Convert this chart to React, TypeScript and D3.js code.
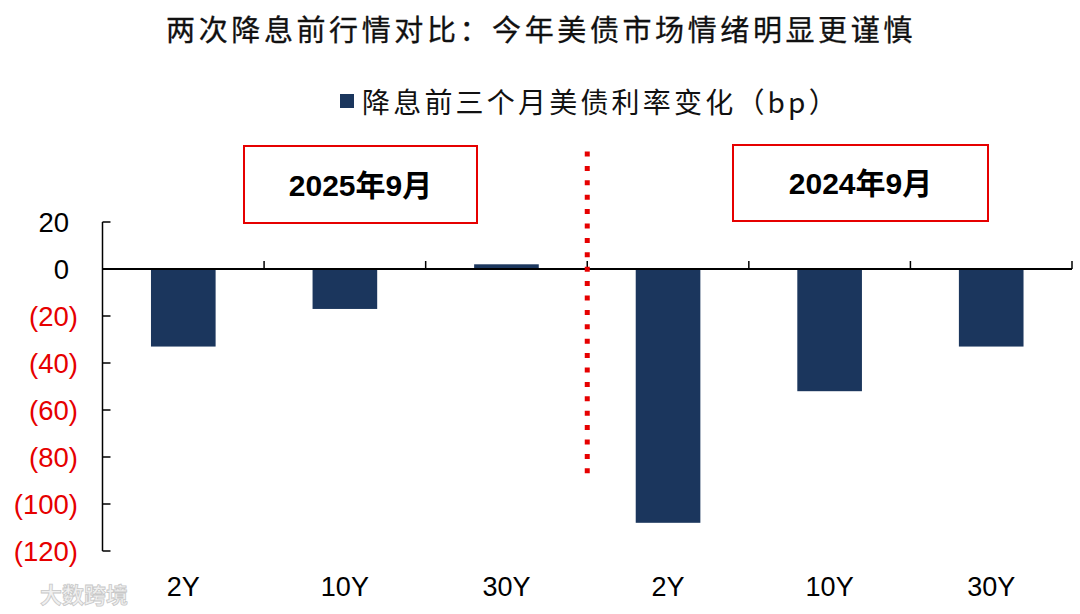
import React from 'react';
import * as d3 from 'd3';

const title = '两次降息前行情对比：今年美债市场情绪明显更谨慎';
const legendLabel = '降息前三个月美债利率变化（bp）';
const categories = ['2Y', '10Y', '30Y', '2Y', '10Y', '30Y'];
const values = [-33, -17, 2, -108, -52, -33];
const periodLabels = ['2025年9月', '2024年9月'];
const yTicks = [20, 0, -20, -40, -60, -80, -100, -120];

const W = 1080;
const H = 614;
const plotLeft = 102.5;
const plotRight = 1072;
const yTop = 222;
const yBottom = 551;

const barColor = '#1b365d';
const red = '#e60000';
const latin = '"Liberation Sans", Arial, "Noto Sans CJK SC", sans-serif';
const cjk = '"Noto Sans CJK SC", "Liberation Sans", sans-serif';

function fmt(v: number) {
  return v < 0 ? `(${Math.abs(v)})` : `${v}`;
}

export default function App() {
  const idx = categories.map((_, i) => String(i));
  const x = d3.scaleBand<string>().domain(idx).range([plotLeft, plotRight]).padding(0);
  const y = d3.scaleLinear().domain([-120, 20]).range([yBottom, yTop]);
  const step = x.step();
  const bw = step * 0.4;
  const y0 = y(0);
  const dividerX = x('3')!;

  const boxes = [
    { x0: 244, x1: 477, y0: 146, y1: 223, label: periodLabels[0] },
    { x0: 733, x1: 988, y0: 145, y1: 221, label: periodLabels[1] },
  ];

  return (
    <svg
      width={W}
      height={H}
      style={{ position: 'absolute', left: 0, top: 0, background: '#fff' }}
    >
      <rect x={0} y={0} width={W} height={H} fill="#fff" />
      {/* title */}
      <text
        x={541}
        y={41}
        textAnchor="middle"
        fontFamily={cjk}
        fontSize={29}
        fontWeight={400}
        letterSpacing={3.6}
        fill="#111"
        stroke="#111"
        strokeWidth={0.3}
      >
        {title}
      </text>
      {/* legend */}
      <rect x={340} y={94} width={14} height={14} fill={barColor} />
      <text x={362} y={113} fontFamily={cjk} fontSize={28} letterSpacing={3.2} fill="#111">
        {legendLabel}
      </text>

      {/* period boxes */}
      {boxes.map((b, i) => (
        <g key={i}>
          <rect
            x={b.x0}
            y={b.y0}
            width={b.x1 - b.x0}
            height={b.y1 - b.y0}
            fill="#fff"
            stroke={red}
            strokeWidth={2}
          />
          <text
            x={(b.x0 + b.x1) / 2}
            y={(b.y0 + b.y1) / 2 + 11}
            textAnchor="middle"
            fontFamily={latin}
            fontWeight="bold"
            fontSize={30}
            fill="#000"
          >
            {b.label}
          </text>
        </g>
      ))}

      {/* bars */}
      {values.map((v, i) => {
        const cx = x(String(i))! + step / 2;
        const top = Math.min(y(v), y0);
        const h = Math.abs(y(v) - y0);
        return <rect key={i} x={cx - bw / 2} y={top} width={bw} height={h} fill={barColor} />;
      })}

      {/* y axis */}
      <line x1={plotLeft} x2={plotLeft} y1={yTop} y2={yBottom} stroke="#000" strokeWidth={1.5} />
      {yTicks.map((t) => (
        <g key={t}>
          <line x1={plotLeft} x2={plotLeft + 8} y1={y(t)} y2={y(t)} stroke="#000" strokeWidth={1.5} />
          <text
            x={t < 0 ? 78 : 69}
            y={y(t) + 10}
            textAnchor="end"
            fontFamily={latin}
            fontSize={27.5}
            fill={t < 0 ? red : '#000'}
          >
            {fmt(t)}
          </text>
        </g>
      ))}

      {/* x axis (zero line) */}
      <line x1={plotLeft} x2={plotRight} y1={y0} y2={y0} stroke="#000" strokeWidth={1.8} />
      {idx.map((d) => (
        <line
          key={d}
          x1={x(d)! + step}
          x2={x(d)! + step}
          y1={y0}
          y2={y0 - 8}
          stroke="#000"
          strokeWidth={1.5}
        />
      ))}
      {categories.map((c, i) => (
        <text
          key={i}
          x={x(String(i))! + step / 2}
          y={596}
          textAnchor="middle"
          fontFamily={latin}
          fontSize={27}
          fill="#000"
        >
          {c}
        </text>
      ))}

      {/* divider */}
      <line
        x1={dividerX}
        x2={dividerX}
        y1={151.5}
        y2={477}
        stroke={red}
        strokeWidth={5}
        strokeDasharray="5 9.4"
      />

      {/* watermark */}
      <text
        x={40}
        y={603}
        fontFamily={cjk}
        fontSize={22}
        fontWeight="bold"
        fill="#f0f0f0"
        stroke="#c8c8c8"
        strokeWidth={0.8}
      >
        大数跨境
      </text>
    </svg>
  );
}
